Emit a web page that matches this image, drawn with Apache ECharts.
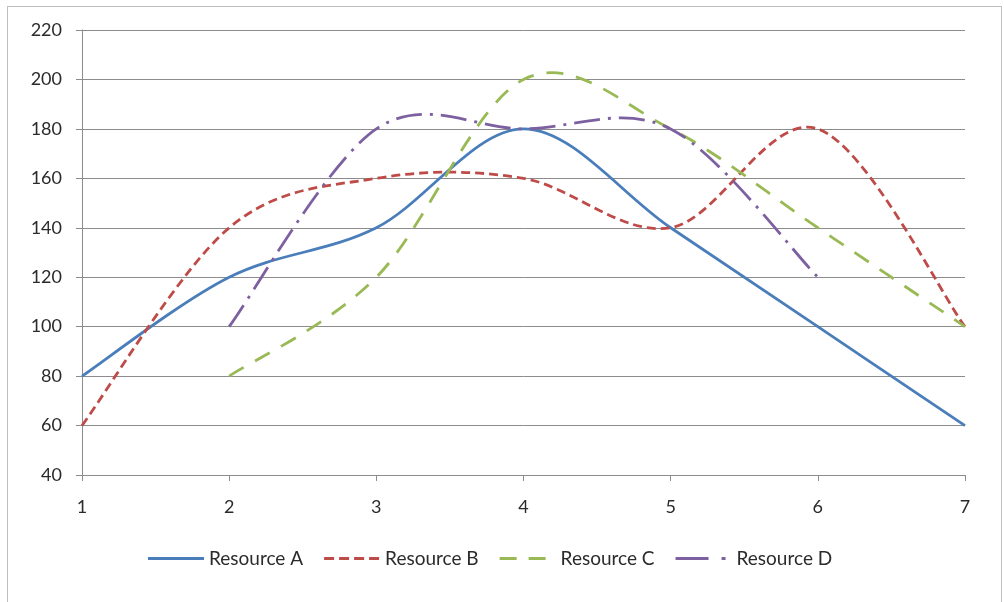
<!DOCTYPE html>
<html><head><meta charset="utf-8">
<script src="https://cdn.jsdelivr.net/npm/echarts@6/dist/echarts.min.js"></script>
<style>html,body{margin:0;padding:0;background:#fff}#wrap{position:absolute;left:7px;top:6px;width:995px;height:600px;border:1px solid #bfbfbf;border-bottom:none;box-sizing:border-box}#c{position:absolute;left:0;top:0;width:1004px;height:602px}</style>
</head><body><div id="wrap"></div><div id="c"></div>
<script>
const xValues = [1, 2, 3, 4, 5, 6, 7];
const resourceA = [80, 120, 140, 180, 140, 100, 60];
const resourceB = [60, 140, 160, 160, 140, 180, 100];
const resourceC = [null, 80, 120, 200, 180, 140, 100];
const resourceD = [null, 100, 180, 180, 180, 120, null];
const yTicks = [40, 60, 80, 100, 120, 140, 160, 180, 200, 220];
const seriesNames = ['Resource A', 'Resource B', 'Resource C', 'Resource D'];

const colors = ['#4A7EBB', '#BE4B48', '#98B954', '#7D60A0'];
const dashes = [null, [9, 5], [17, 13], [26, 8, 3, 8]];
const legendIcons = [
  'path://M0,0h56v3h-56z',
  'path://M0,0h10v3h-10zM15,0h10v3h-10zM30,0h10v3h-10zM45,0h10v3h-10zM56,0',
  'path://M0,0h17v3h-17zM29,0h17v3h-17zM56,0',
  'path://M0,0h33v3h-33zM46,0h4v3h-4zM56,0'
];
const allData = [resourceA, resourceB, resourceC, resourceD];

// Excel-style smoothed line (Bezier, tension 1/6) through the data points, placed via the axes
function makeRender(i) {
  return function (params, api) {
    if (params.dataIndexInside !== 0) return null;
    const n = params.dataInsideLength;
    const pts = [];
    for (let j = 0; j < n; j++) pts.push(api.coord([api.value(0, j), api.value(1, j)]));
    let d = 'M' + pts[0][0] + ',' + pts[0][1];
    for (let j = 0; j < n - 1; j++) {
      const p0 = pts[Math.max(j - 1, 0)], p1 = pts[j], p2 = pts[j + 1], p3 = pts[Math.min(j + 2, n - 1)];
      const c1x = p1[0] + (p2[0] - p0[0]) / 6, c1y = p1[1] + (p2[1] - p0[1]) / 6;
      const c2x = p2[0] - (p3[0] - p1[0]) / 6, c2y = p2[1] - (p3[1] - p1[1]) / 6;
      d += 'C' + c1x + ',' + c1y + ',' + c2x + ',' + c2y + ',' + p2[0] + ',' + p2[1];
    }
    return {
      type: 'path', shape: {pathData: d},
      style: {fill: 'none', stroke: colors[i], lineWidth: 2.8, lineDash: dashes[i], lineCap: 'butt', lineJoin: 'round'}
    };
  };
}

const chart = echarts.init(document.getElementById('c'), null, {renderer: 'canvas'});
const font = 'Lato';
chart.setOption({
  animation: false,
  grid: {left: 82, right: 39, top: 30, bottom: 127},
  legend: {
    left: 148, top: 549, padding: 0, itemWidth: 56, itemHeight: 3, itemGap: 21,
    textStyle: {fontFamily: font, fontSize: 19, color: '#2b2b2b'},
    data: seriesNames.map((n, i) => ({name: n, icon: legendIcons[i]}))
  },
  xAxis: {
    type: 'value', min: 1, max: 7, interval: 1,
    axisLine: {lineStyle: {color: '#8c8c8c'}},
    axisTick: {show: true, length: 6, lineStyle: {color: '#8c8c8c'}},
    axisLabel: {fontFamily: font, fontSize: 18, color: '#2b2b2b', margin: 23},
    splitLine: {show: false}
  },
  yAxis: {
    type: 'value', min: yTicks[0], max: yTicks[yTicks.length - 1], interval: yTicks[1] - yTicks[0],
    axisLine: {show: true, lineStyle: {color: '#8c8c8c'}},
    axisTick: {show: true, length: 6, lineStyle: {color: '#8c8c8c'}},
    axisLabel: {fontFamily: font, fontSize: 18, color: '#2b2b2b', margin: 20},
    splitLine: {lineStyle: {color: '#8c8c8c'}}
  },
  series: allData.map((d, i) => ({
    name: seriesNames[i], type: 'custom',
    itemStyle: {color: colors[i]},
    encode: {x: 0, y: 1},
    renderItem: makeRender(i),
    data: xValues.map((x, j) => d[j] == null ? null : [x, d[j]]).filter(p => p)
  }))
});
</script></body></html>
